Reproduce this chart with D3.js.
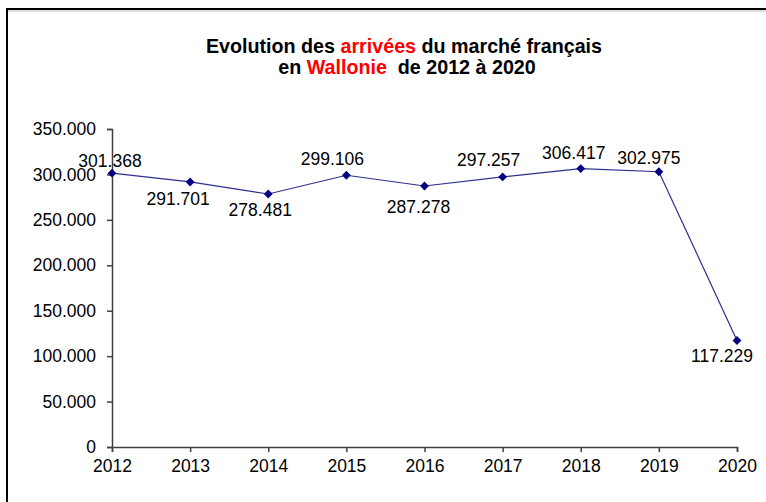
<!DOCTYPE html>
<html lang="fr">
<head>
    <meta charset="UTF-8">
    <title>Evolution des arrivées du marché français</title>
    <script src="https://d3js.org/d3.v7.min.js"></script>
    <style>
        body{
            margin: 0;
            background: #fff;
        }
        svg{
            display: block;
            font-family: "Liberation Sans", Arial, sans-serif;
        }
        .axis path, .axis line
        {
            stroke: #404040;
            stroke-width: 1.5;
        }
        .axis text
        {
            font-size: 17.5px;
            fill: #000;
        }
    </style>
</head>
<body>
<svg width="766" height="502"></svg>
<script>
    // data
    let years = [2012, 2013, 2014, 2015, 2016, 2017, 2018, 2019, 2020]
    let arrivals = [301368, 291701, 278481, 299106, 287278, 297257, 306417, 302975, 117229]
    let yTicks = [0, 50000, 100000, 150000, 200000, 250000, 300000, 350000]
    // where each value label sits relative to its point (dx, dy)
    let labelDx = [-2, -12, -8, -14, -6, -14, -7, -10, -15]
    let labelDy = [-6, 23, 22, -10, 27, -11, -10, -8, 22]

    let svg = d3.select('svg')
    let margins = {left:112, right:29, top:129, bottom:55};
    let W = 766, H = 502;

    // frame of the chart area
    svg.append('rect').attr('x',7).attr('y',9).attr('width',800).attr('height',600)
        .attr('fill','none').attr('stroke','#000').attr('stroke-width',2)
    svg.append('line').attr('x1',8).attr('x2',766).attr('y1',11).attr('y2',11)
        .attr('stroke','#bbb').attr('stroke-width',1)

    // title
    let title = svg.append('text').attr('text-anchor','middle')
        .style('font-weight','bold').style('font-size','19.7px')
    let l1 = title.append('tspan').attr('x',404).attr('y',53)
    l1.append('tspan').text('Evolution des ')
    l1.append('tspan').attr('fill','#ff0000').text('arrivées')
    l1.append('tspan').text(' du marché français')
    let l2 = title.append('tspan').attr('x',407).attr('y',74)
    l2.append('tspan').text('en ')
    l2.append('tspan').attr('fill','#ff0000').text('Wallonie')
    l2.append('tspan').attr('xml:space','preserve').text('\u00a0 de 2012 à 2020')

    // scales
    let xScale = d3.scaleLinear().domain(d3.extent(years)).range([margins.left, W-margins.right])
    let yScale = d3.scaleLinear().domain([0, 350000]).range([H-margins.bottom, margins.top])
    let fmt = d3.formatLocale({decimal:',', thousands:'.', grouping:[3]}).format(',')

    // axes
    svg.append('g').attr('class','axis')
        .attr('transform','translate('+margins.left+',0)')
        .call(d3.axisLeft(yScale).tickValues(yTicks).tickFormat(fmt).tickSizeOuter(0).tickSize(5).tickPadding(11))
    svg.append('g').attr('class','axis')
        .attr('transform','translate(0,'+(H-margins.bottom)+')')
        .call(d3.axisBottom(xScale).tickValues(years).tickFormat(d3.format('d')).tickSizeOuter(0).tickSize(5).tickPadding(8))

    // line
    let line = d3.line().x(function (d,i){return xScale(years[i])}).y(function (d){return yScale(d)})
    svg.append('path').datum(arrivals).attr('d',line)
        .attr('fill','none').attr('stroke','#2e2e8f').attr('stroke-width',1.2)

    // diamond markers
    svg.selectAll('.marker').data(arrivals).enter().append('path')
        .attr('class','marker')
        .attr('d', d3.symbol().type(d3.symbolDiamond2).size(50))
        .attr('transform', function (d,i){return 'translate('+xScale(years[i])+','+yScale(d)+')'})
        .attr('fill','#000080')

    // value labels
    svg.selectAll('.lbl').data(arrivals).enter().append('text')
        .attr('class','lbl')
        .attr('x', function (d,i){return xScale(years[i])+labelDx[i]})
        .attr('y', function (d,i){return yScale(d)+labelDy[i]})
        .attr('text-anchor','middle')
        .style('font-size','17.5px')
        .text(function (d){return fmt(d)})
</script>
</body>
</html>
